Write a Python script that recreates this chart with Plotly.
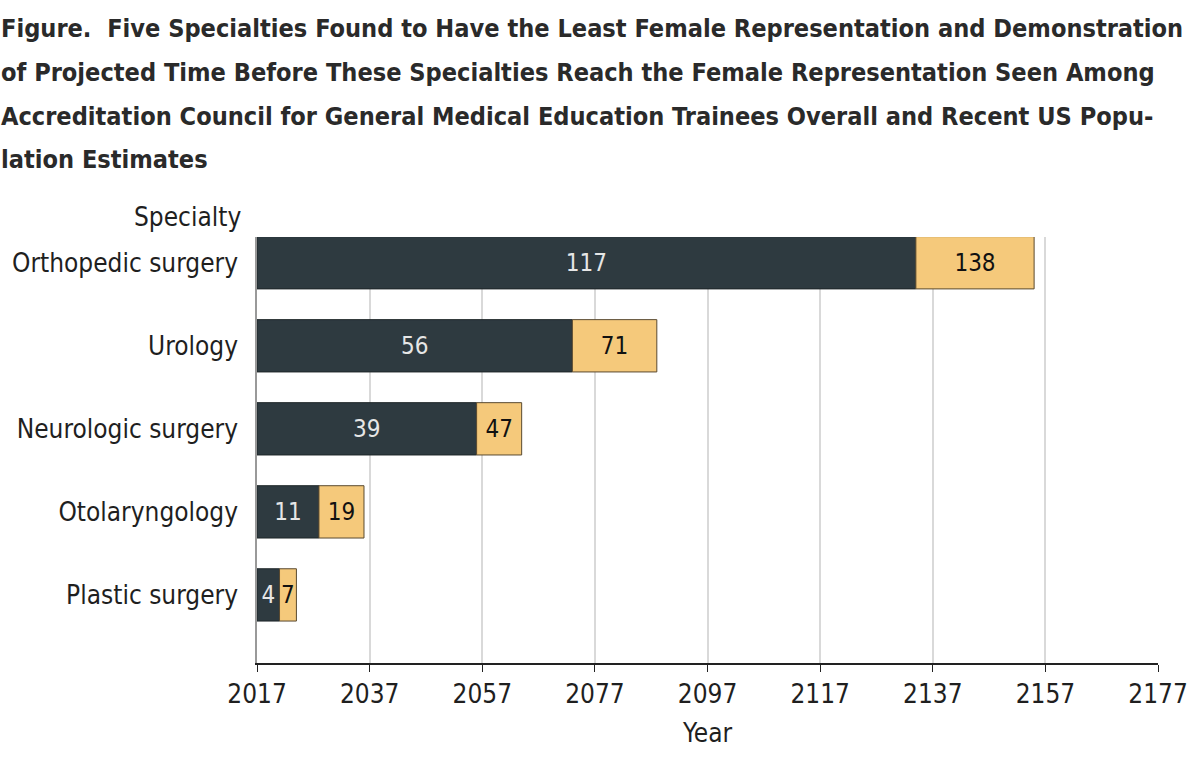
import plotly.graph_objects as go

specialties = ["Orthopedic surgery", "Urology", "Neurologic surgery", "Otolaryngology", "Plastic surgery"]
years_overall = [117, 56, 39, 11, 4]      # years to reach ACGME trainee female representation
years_population = [138, 71, 47, 19, 7]   # years to reach US population female representation
start_year = 2017
tick_years = [2017, 2037, 2057, 2077, 2097, 2117, 2137, 2157, 2177]

title_lines = [
    "Figure.  Five Specialties Found to Have the Least Female Representation and Demonstration",
    "of Projected Time Before These Specialties Reach the Female Representation Seen Among",
    "Accreditation Council for General Medical Education Trainees Overall and Recent US Popu-",
    "lation Estimates",
]

FONT = "Liberation Sans Narrow, DejaVu Sans Condensed, Roboto, sans-serif"
DARK = "#2e3a40"
YELLOW = "#f5c97b"
TXT = "#1f1f1f"

extra = [p - o for p, o in zip(years_population, years_overall)]

fig = go.Figure()
fig.add_trace(go.Bar(
    y=specialties, x=years_overall, base=[start_year] * len(specialties),
    orientation="h", width=0.63,
    marker=dict(color=DARK, line=dict(color="#1e2628", width=1)),
    text=[str(v) for v in years_overall], textposition="inside",
    insidetextanchor="middle", constraintext="none",
    textfont=dict(color="#e6e6e6", size=24, family=FONT),
    showlegend=False, hoverinfo="skip",
))
fig.add_trace(go.Bar(
    y=specialties, x=extra, base=[start_year + o for o in years_overall],
    orientation="h", width=0.63,
    marker=dict(color=YELLOW, line=dict(color="#5a4a30", width=1)),
    text=[str(v) for v in years_population], textposition="inside",
    insidetextanchor="middle", constraintext="none",
    textfont=dict(color="#111111", size=24, family=FONT),
    showlegend=False, hoverinfo="skip",
))

annotations = []
for i, line in enumerate(title_lines):
    annotations.append(dict(
        text=f"<b>{line}</b>", xref="paper", yref="paper",
        x=-259 / 906, y=1 + (237 - (28 + 44 * i)) / 426,
        xanchor="left", yanchor="middle", showarrow=False,
        font=dict(family=FONT, size=25.1, color="#2a2a2a"),
    ))
annotations.append(dict(
    text="Specialty", xref="paper", yref="paper",
    x=-14 / 906, y=1 + (237 - 217) / 426, xanchor="right", yanchor="middle",
    showarrow=False, font=dict(family=FONT, size=26, color=TXT),
))

fig.update_layout(
    width=1200, height=759,
    margin=dict(l=254, r=40, t=237, b=96),
    paper_bgcolor="white", plot_bgcolor="white",
    barmode="overlay",
    annotations=annotations,
    font=dict(family=FONT, color=TXT),
    xaxis=dict(
        range=[start_year, 2177], tickvals=tick_years, ticktext=[str(t) for t in tick_years],
        showgrid=True, gridcolor="#d9d9d9", gridwidth=2,
        showline=True, linecolor="#222222", linewidth=1.5,
        ticks="outside", ticklen=7, tickcolor="#222222",
        tickfont=dict(size=26, family=FONT, color=TXT),
        title=dict(text="Year", font=dict(size=26, family=FONT, color=TXT), standoff=16),
        zeroline=False,
    ),
    yaxis=dict(
        range=[4.82, -0.31], showgrid=False,
        showline=True, linecolor="#999999", linewidth=1.5,
        ticks="", ticklabelstandoff=12,
        tickfont=dict(size=26, family=FONT, color=TXT),
    ),
)

fig.write_html("out.html", config={"displayModeBar": False},
               post_script="document.body.style.margin='0px';")
